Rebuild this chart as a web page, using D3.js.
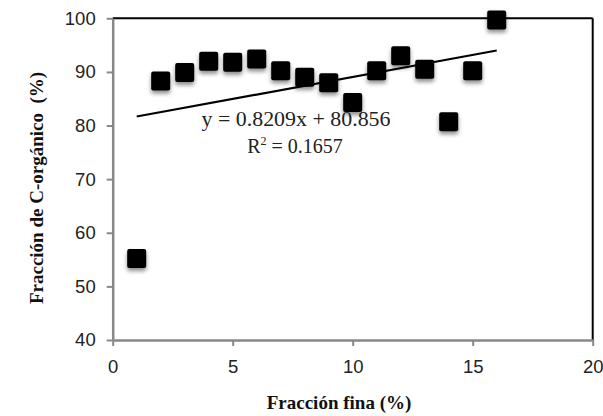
<!DOCTYPE html>
<html><head><meta charset="utf-8">
<script src="https://cdn.jsdelivr.net/npm/d3@7"></script>
<style>body{margin:0;background:#fff}svg{display:block}</style>
</head><body>
<script>
const xValues = [1,2,3,4,5,6,7,8,9,10,11,12,13,14,15,16];
const yValues = [55.2,88.3,89.9,92.0,91.8,92.4,90.2,89.0,88.0,84.3,90.2,93.0,90.5,80.7,90.2,99.7];
const slope = 0.8209, intercept = 80.856;
const xTicks = [0,5,10,15,20];
const yTicks = [40,50,60,70,80,90,100];
const eqText = "y = 0.8209x + 80.856";
const r2Text = "0.1657";
const xTitle = "Fracción fina (%)";
const yTitle = "Fracción de C-orgánico  (%)";

const W=603,H=416;
const svg=d3.select("body").append("svg").attr("width",W).attr("height",H);
const x=d3.scaleLinear().domain([0,20]).range([112.7,592.7]);
const y=d3.scaleLinear().domain([40,100]).range([340,18.3]);

const defs=svg.append("defs");
const f=defs.append("filter").attr("id","sh").attr("x","-50%").attr("y","-50%").attr("width","200%").attr("height","220%");
f.append("feDropShadow").attr("dx",0).attr("dy",3).attr("stdDeviation",2.2).attr("flood-color","#000").attr("flood-opacity",0.45);

// frame top/right
svg.append("line").attr("x1",x(0)).attr("x2",x(20)).attr("y1",y(100)).attr("y2",y(100)).attr("stroke","#000").attr("stroke-width",2);
svg.append("line").attr("x1",x(20)).attr("x2",x(20)).attr("y1",y(100)).attr("y2",y(40)).attr("stroke","#000").attr("stroke-width",2);

const tickFont="'Liberation Sans', Arial, sans-serif";
const xa=svg.append("g").attr("transform",`translate(0,${y(40)})`).call(d3.axisBottom(x).tickValues(xTicks).tickSize(6).tickPadding(14).tickSizeOuter(0));
const ya=svg.append("g").attr("transform",`translate(${x(0)},0)`).call(d3.axisLeft(y).tickValues(yTicks).tickSize(6).tickPadding(11).tickSizeOuter(0));
[xa,ya].forEach(a=>{
  a.select(".domain").attr("stroke","#888").attr("stroke-width",2.5);
  a.selectAll(".tick line").attr("stroke","#888").attr("stroke-width",2);
  a.selectAll("text").attr("font-family",tickFont).attr("font-size",18.5).attr("fill","#222");
});

// trendline
const x0=d3.min(xValues),x1=d3.max(xValues);
svg.append("line").attr("x1",x(x0)).attr("y1",y(slope*x0+intercept)).attr("x2",x(x1)).attr("y2",y(slope*x1+intercept)).attr("stroke","#000").attr("stroke-width",2.2);

// points
const s=19;
svg.append("g").selectAll("rect").data(xValues.map((d,i)=>[d,yValues[i]])).join("rect")
  .attr("x",d=>x(d[0])-s/2).attr("y",d=>y(d[1])-s/2).attr("width",s).attr("height",s).attr("rx",2)
  .attr("fill","#000").attr("filter","url(#sh)");

const serif="'Liberation Serif','DejaVu Serif',serif";
svg.append("text").attr("x",296).attr("y",126).attr("text-anchor","middle").attr("font-family",serif).attr("font-size",20).attr("fill","#222")
  .attr("textLength",189).attr("lengthAdjust","spacingAndGlyphs").text(eqText);
const t2=svg.append("text").attr("x",295).attr("y",153).attr("text-anchor","middle").attr("font-family",serif).attr("font-size",20).attr("fill","#222");
t2.append("tspan").text("R");
t2.append("tspan").attr("dy",-8).attr("font-size",12).text("2");
t2.append("tspan").attr("dy",8).text(" = "+r2Text);

svg.append("text").attr("x",339).attr("y",409).attr("text-anchor","middle").attr("font-family",serif).attr("font-weight","bold").attr("font-size",19).attr("fill","#111").text(xTitle);
svg.append("text").attr("transform","translate(43,188) rotate(-90)").attr("text-anchor","middle").attr("font-family",serif).attr("font-weight","bold").attr("font-size",19).attr("fill","#111").style("white-space","pre").text(yTitle);
</script>
</body></html>
